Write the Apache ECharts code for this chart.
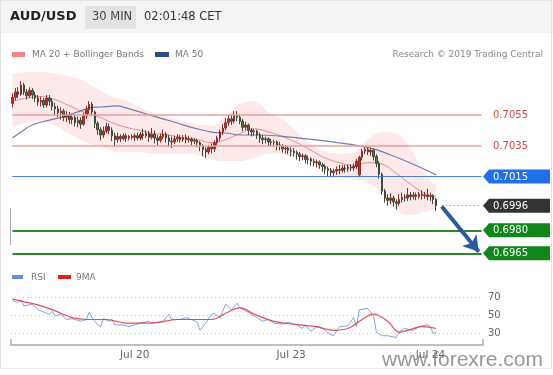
<!DOCTYPE html>
<html><head><meta charset="utf-8">
<script src="https://cdn.jsdelivr.net/npm/echarts@6/dist/echarts.min.js"></script>
<style>html,body{margin:0;padding:0;background:#fff}#c{width:553px;height:375px}</style>
</head><body><div id="c"></div>
<script>
// ---------- data ----------
const xLabels = ['Jul 20', 'Jul 23', 'Jul 24'];
const xLabelIdx = [43, 98, 147];
const slotCount = 166;

// [open, close, low, high]
const candles = [
[0.70625,0.70665,0.70600,0.70690],[0.70665,0.70700,0.70645,0.70725],[0.70700,0.70685,0.70660,0.70730],[0.70685,0.70745,0.70675,0.70770],
[0.70745,0.70700,0.70680,0.70760],[0.70700,0.70675,0.70650,0.70720],[0.70675,0.70710,0.70660,0.70730],[0.70710,0.70680,0.70655,0.70725],
[0.70680,0.70660,0.70635,0.70700],[0.70660,0.70635,0.70610,0.70680],[0.70635,0.70645,0.70605,0.70670],[0.70645,0.70615,0.70595,0.70660],
[0.70615,0.70660,0.70600,0.70680],[0.70660,0.70640,0.70610,0.70680],[0.70640,0.70605,0.70580,0.70660],[0.70605,0.70590,0.70550,0.70630],
[0.70590,0.70565,0.70535,0.70610],[0.70565,0.70575,0.70520,0.70600],[0.70575,0.70535,0.70510,0.70590],[0.70535,0.70550,0.70505,0.70575],
[0.70550,0.70520,0.70495,0.70570],[0.70520,0.70535,0.70490,0.70560],[0.70535,0.70500,0.70475,0.70550],[0.70500,0.70515,0.70470,0.70540],
[0.70515,0.70490,0.70460,0.70535],[0.70490,0.70545,0.70480,0.70565],[0.70545,0.70585,0.70525,0.70610],[0.70585,0.70620,0.70560,0.70640],
[0.70620,0.70570,0.70545,0.70635],[0.70570,0.70495,0.70465,0.70580],[0.70495,0.70455,0.70420,0.70510],[0.70455,0.70420,0.70385,0.70470],
[0.70420,0.70445,0.70400,0.70475],[0.70445,0.70475,0.70430,0.70500],[0.70475,0.70450,0.70425,0.70495],[0.70450,0.70415,0.70380,0.70470],
[0.70415,0.70390,0.70345,0.70435],[0.70390,0.70410,0.70370,0.70435],[0.70410,0.70395,0.70375,0.70425],[0.70395,0.70415,0.70385,0.70430],
[0.70415,0.70400,0.70375,0.70430],[0.70400,0.70410,0.70385,0.70420],[0.70410,0.70405,0.70390,0.70425],[0.70405,0.70415,0.70380,0.70430],
[0.70415,0.70400,0.70385,0.70435],[0.70400,0.70425,0.70385,0.70440],[0.70425,0.70415,0.70390,0.70460],[0.70415,0.70430,0.70400,0.70450],
[0.70430,0.70405,0.70375,0.70445],[0.70405,0.70425,0.70390,0.70465],[0.70425,0.70400,0.70365,0.70450],[0.70400,0.70385,0.70355,0.70420],
[0.70385,0.70410,0.70370,0.70430],[0.70410,0.70425,0.70395,0.70455],[0.70425,0.70400,0.70370,0.70440],[0.70400,0.70380,0.70345,0.70420],
[0.70380,0.70375,0.70335,0.70410],[0.70375,0.70395,0.70360,0.70415],[0.70395,0.70405,0.70375,0.70425],[0.70405,0.70390,0.70370,0.70420],
[0.70390,0.70405,0.70375,0.70420],[0.70405,0.70390,0.70365,0.70425],[0.70390,0.70395,0.70370,0.70415],[0.70395,0.70380,0.70355,0.70405],
[0.70380,0.70385,0.70360,0.70400],[0.70385,0.70370,0.70340,0.70395],[0.70370,0.70350,0.70315,0.70380],[0.70350,0.70325,0.70280,0.70360],
[0.70325,0.70310,0.70270,0.70340],[0.70310,0.70340,0.70295,0.70355],[0.70340,0.70330,0.70300,0.70365],[0.70330,0.70370,0.70310,0.70385],
[0.70370,0.70400,0.70355,0.70415],[0.70400,0.70440,0.70380,0.70455],[0.70440,0.70465,0.70420,0.70490],[0.70465,0.70500,0.70450,0.70530],
[0.70500,0.70525,0.70480,0.70550],[0.70525,0.70510,0.70485,0.70555],[0.70510,0.70550,0.70495,0.70575],[0.70550,0.70535,0.70510,0.70575],
[0.70535,0.70510,0.70490,0.70555],[0.70510,0.70470,0.70445,0.70525],[0.70470,0.70485,0.70450,0.70505],[0.70485,0.70450,0.70420,0.70495],
[0.70450,0.70440,0.70410,0.70465],[0.70440,0.70445,0.70415,0.70460],[0.70445,0.70420,0.70395,0.70455],[0.70420,0.70400,0.70370,0.70435],
[0.70400,0.70390,0.70360,0.70420],[0.70390,0.70395,0.70365,0.70410],[0.70395,0.70375,0.70345,0.70405],[0.70375,0.70370,0.70345,0.70395],
[0.70370,0.70375,0.70345,0.70390],[0.70375,0.70355,0.70320,0.70385],[0.70355,0.70350,0.70320,0.70375],[0.70350,0.70330,0.70305,0.70360],
[0.70330,0.70335,0.70300,0.70355],[0.70335,0.70320,0.70295,0.70350],[0.70320,0.70315,0.70280,0.70340],[0.70315,0.70305,0.70280,0.70335],
[0.70305,0.70295,0.70260,0.70320],[0.70295,0.70280,0.70250,0.70310],[0.70280,0.70285,0.70255,0.70300],[0.70285,0.70260,0.70235,0.70295],
[0.70260,0.70265,0.70230,0.70285],[0.70265,0.70250,0.70220,0.70275],[0.70250,0.70240,0.70215,0.70265],[0.70240,0.70245,0.70210,0.70260],
[0.70245,0.70225,0.70200,0.70255],[0.70225,0.70215,0.70180,0.70240],[0.70215,0.70200,0.70165,0.70230],[0.70200,0.70190,0.70150,0.70215],
[0.70190,0.70175,0.70145,0.70205],[0.70175,0.70185,0.70145,0.70200],[0.70185,0.70195,0.70160,0.70215],[0.70195,0.70190,0.70165,0.70225],
[0.70190,0.70205,0.70175,0.70225],[0.70205,0.70200,0.70175,0.70225],[0.70200,0.70210,0.70180,0.70230],[0.70210,0.70205,0.70185,0.70230],
[0.70205,0.70215,0.70185,0.70235],[0.70215,0.70250,0.70200,0.70265],[0.70160,0.70275,0.70145,0.70285],[0.70275,0.70315,0.70255,0.70330],
[0.70315,0.70325,0.70295,0.70340],[0.70325,0.70310,0.70290,0.70335],[0.70310,0.70320,0.70285,0.70335],[0.70320,0.70280,0.70255,0.70330],
[0.70280,0.70235,0.70210,0.70295],[0.70235,0.70165,0.70135,0.70250],[0.70165,0.70055,0.70030,0.70175],[0.70055,0.70010,0.69980,0.70070],
[0.70010,0.69995,0.69960,0.70035],[0.69995,0.70010,0.69970,0.70040],[0.70010,0.69985,0.69955,0.70025],[0.69985,0.69975,0.69935,0.70000],
[0.69975,0.70000,0.69960,0.70035],[0.70000,0.70015,0.69980,0.70045],[0.70015,0.70010,0.69985,0.70035],[0.70010,0.70030,0.69990,0.70075],
[0.70030,0.70020,0.69995,0.70050],[0.70020,0.70030,0.70000,0.70050],[0.70030,0.70020,0.69995,0.70045],[0.70020,0.70035,0.70005,0.70050],
[0.70035,0.70025,0.70000,0.70060],[0.70025,0.70030,0.70005,0.70050],[0.70030,0.70020,0.69995,0.70070],[0.70020,0.70025,0.69990,0.70045],
[0.70025,0.70000,0.69970,0.70035],[0.70000,0.69960,0.69925,0.70010]
];

const ma50Idx = [0,3,7,13,18,23,27,31,37,40,46,52,58,64,70,75,80,87,94,101,113,126,133,140,147,149];
const ma50Val = [0.70400,0.70439,0.70485,0.70517,0.70537,0.70570,0.70596,0.70602,0.70609,0.70596,0.70563,0.70530,0.70498,0.70465,0.70439,0.70433,0.70420,0.70420,0.70413,0.70400,0.70374,0.70335,0.70290,0.70238,0.70179,0.70159];

const bbIdx = [0,5,10,15,20,25,30,35,40,45,50,55,60,65,70,75,80,85,90,95,100,105,110,115,120,125,130,135,140,145,149];
const bbUpper = [0.7082,0.7083,0.7083,0.7082,0.7080,0.7077,0.7072,0.7067,0.7064,0.7060,0.7056,0.7054,0.7051,0.7049,0.7048,0.7054,0.7062,0.7064,0.7057,0.7052,0.7044,0.7036,0.7031,0.7030,0.7031,0.7039,0.7044,0.7043,0.7033,0.7017,0.7009];
const bbMid = [0.7064,0.7066,0.7067,0.7065,0.7061,0.7057,0.7054,0.7050,0.7047,0.7045,0.7043,0.7042,0.7040,0.7039,0.7037,0.7039,0.7043,0.7046,0.7044,0.7041,0.7037,0.7032,0.7027,0.7024,0.7022,0.7024,0.7023,0.7017,0.7010,0.7004,0.7002];
const bbLower = [0.7047,0.7050,0.7051,0.7048,0.7043,0.7038,0.7035,0.7032,0.7031,0.7031,0.7030,0.7030,0.7030,0.7029,0.7026,0.7025,0.7025,0.7027,0.7030,0.7029,0.7027,0.7024,0.7018,0.7015,0.7013,0.7011,0.7004,0.6993,0.6990,0.6992,0.6994];

const rsiIdx = [0,2,3,4,7,9,12,13,14,15,17,19,21,22,24,26,27,28,30,31,32,34,35,36,39,41,43,45,48,49,53,55,56,59,61,63,65,66,68,70,71,73,75,77,79,80,83,84,86,88,90,92,95,97,100,102,103,105,107,109,110,112,113,115,118,120,121,122,124,125,127,128,130,132,135,136,138,141,143,146,147,148,149];
const rsiVal = [66,64,67,60,62,56,52,51,54,49,51,45,46,45,43,45,53,47,39,37,46,43,45,39,39,37,39,41,43,41,43,51,45,45,47,45,42,33,41,51,52,47,62,56,63,58,53,51,47,43,45,41,40,42,39,35,39,32,37,35,33,28,27,37,38,47,37,56,57,57,49,31,27,27,25,31,35,33,37,39,37,29,31];
const rsiMaIdx = [0,5,8,14,21,26,33,40,49,58,62,70,75,80,85,92,101,107,113,118,123,127,132,136,139,144,149];
const rsiMaVal = [68,64,62,56,47,45,45,41,41,45,45,45,52,58,51,43,39,37,33,35,45,51,43,31,33,37,35];
const rsiLevels = [30, 50, 70];

const levels = [0.7055, 0.7035, 0.7015, 0.6996, 0.6980, 0.6965];
const levelText = ['0.7055', '0.7035', '0.7015', '0.6996', '0.6980', '0.6965'];
const lastPrice = 0.6996;
const arrowFrom = [151, 0.69955];
const arrowTo = [164, 0.69660];

// ---------- chart ----------
const FONT = 'DejaVu Sans';
const categories = [];
for (let i = 0; i < slotCount; i++) categories.push(String(i));
const pairs = (idx, val) => idx.map((x, k) => [x, val[k]]);

const levelStyle = [
  {kind: 'text', color: '#d9453f', line: {color: '#f09c9c', width: 1.6, type: 'solid'}},
  {kind: 'text', color: '#d9453f', line: {color: '#f09c9c', width: 1.6, type: 'solid'}},
  {kind: 'box', color: '#1f6fe5', line: {color: '#4a7fe0', width: 1, type: 'solid'}},
  {kind: 'box', color: '#333333', line: null},
  {kind: 'box', color: '#11861a', line: {color: '#2a8a2a', width: 2, type: 'solid'}},
  {kind: 'box', color: '#11861a', line: {color: '#2a8a2a', width: 2, type: 'solid'}}
];

const markData = [];
levels.forEach((lv, k) => {
  if (levelStyle[k].line) markData.push([
    {xAxis: 0, yAxis: lv, lineStyle: levelStyle[k].line},
    {xAxis: slotCount - 1, yAxis: lv}
  ]);
});
markData.push([{coord: [151, lastPrice], lineStyle: {color: '#777', width: 1, type: [1, 3]}}, {coord: [slotCount - 1, lastPrice]}]);
markData.push([
  {coord: arrowFrom, symbol: 'none', lineStyle: {color: '#2b5a9e', width: 4, type: 'solid'}},
  {coord: arrowTo, symbol: 'arrow', symbolSize: [14, 15]}
]);

const chart = echarts.init(document.getElementById('c'), null, {renderer: 'canvas'});
const option = {
  animation: false,
  grid: [
    {left: 11, top: 68.9, width: 472, height: 199.8},
    {left: 11, top: 288, width: 472, height: 56.25}
  ],
  xAxis: [
    {type: 'category', gridIndex: 0, data: categories, show: false, boundaryGap: true},
    {type: 'category', gridIndex: 1, data: categories, boundaryGap: true,
      axisLine: {lineStyle: {color: '#aaaaaa', width: 1.5}},
      axisTick: {show: false},
      axisLabel: {
        interval: (i) => xLabelIdx.includes(i),
        formatter: (v, i) => { const k = xLabelIdx.indexOf(Number(v)); return k >= 0 ? xLabels[k] : ''; },
        color: '#666', fontSize: 10.5, fontFamily: FONT, margin: 6
      }
    }
  ],
  yAxis: [
    {type: 'value', gridIndex: 0, min: 0.6955, max: 0.7085, show: false},
    {type: 'value', gridIndex: 1, min: 17.5, max: 80, interval: 2.5, position: 'right',
      axisLine: {show: false}, axisTick: {show: false}, splitLine: {show: false},
      axisLabel: {formatter: (v) => rsiLevels.includes(v) ? String(v) : '', color: '#666', fontSize: 10, fontFamily: FONT, margin: 5}
    }
  ],
  series: [
    {name: 'bbLower', type: 'line', xAxisIndex: 0, yAxisIndex: 0, stack: 'bb', smooth: 0.4, symbol: 'none', silent: true,
      data: pairs(bbIdx, bbLower), lineStyle: {opacity: 0}, z: 1},
    {name: 'bbBand', type: 'line', xAxisIndex: 0, yAxisIndex: 0, stack: 'bb', smooth: 0.4, symbol: 'none', silent: true,
      data: bbIdx.map((x, k) => [x, +(bbUpper[k] - bbLower[k]).toFixed(5)]), lineStyle: {opacity: 0},
      areaStyle: {color: 'rgba(248,165,165,0.34)'}, z: 1},
    {name: 'MA20', type: 'line', xAxisIndex: 0, yAxisIndex: 0, smooth: 0.4, symbol: 'none', silent: true,
      data: pairs(bbIdx, bbMid), lineStyle: {color: 'rgba(225,110,110,0.75)', width: 1}, z: 2},
    {name: 'MA50', type: 'line', xAxisIndex: 0, yAxisIndex: 0, smooth: 0.4, symbol: 'none', silent: true,
      data: pairs(ma50Idx, ma50Val), lineStyle: {color: 'rgba(70,100,160,0.8)', width: 1.2}, z: 2},
    {name: 'levels', type: 'line', xAxisIndex: 0, yAxisIndex: 0, symbol: 'none', silent: true, data: [], z: 4,
      markLine: {silent: true, symbol: ['none', 'none'], label: {show: false}, data: markData, animation: false}},
    {name: 'AUD/USD', type: 'candlestick', xAxisIndex: 0, yAxisIndex: 0, barWidth: 2, data: candles, z: 3,
      itemStyle: {color: '#c8322b', color0: '#4f7a45', borderColor: '#8a2e2a', borderColor0: '#3d4a3b', borderWidth: 1}
    },
    {name: 'RSI', type: 'line', xAxisIndex: 1, yAxisIndex: 1, symbol: 'none', silent: true,
      data: pairs(rsiIdx, rsiVal), lineStyle: {color: 'rgba(110,145,215,0.85)', width: 1},
      markLine: {silent: true, symbol: ['none', 'none'], label: {show: false},
        lineStyle: {color: '#c8c8c8', width: 1, type: [1, 3]},
        data: rsiLevels.map(v => ({yAxis: v}))}
    },
    {name: '9MA', type: 'line', xAxisIndex: 1, yAxisIndex: 1, symbol: 'none', silent: true, smooth: 0.4,
      data: pairs(rsiMaIdx, rsiMaVal), lineStyle: {color: 'rgba(220,50,60,0.85)', width: 1.2}}
  ]
};
chart.setOption(option);

// ---------- decorations & level labels ----------
const txt = (text, x, y, font, fill, align) => ({type: 'text', z: 50,
  style: {text: text, x: x, y: y, font: font, fill: fill, align: align || 'left', verticalAlign: 'middle'}});
const g = [];
g.push({type: 'rect', z: 0, shape: {x: 0, y: 0, width: 553, height: 33}, style: {fill: '#f4f4f4'}});
g.push({type: 'rect', z: 0, shape: {x: 0.5, y: 0.5, width: 551, height: 368}, style: {fill: 'none', stroke: '#e3e3e3'}});
g.push(txt('AUD/USD', 10, 17, 'bold 13px ' + FONT, '#222'));
g.push({type: 'rect', z: 1, shape: {x: 85, y: 6, width: 51, height: 23}, style: {fill: '#e3e3e3'}});
g.push(txt('30 MIN', 92, 17, '11.5px ' + FONT, '#444'));
g.push(txt('02:01:48 CET', 144, 17, '11.5px ' + FONT, '#333'));
g.push({type: 'rect', z: 50, shape: {x: 12, y: 52, width: 13, height: 5}, style: {fill: '#f08686'}});
g.push(txt('MA 20 + Bollinger Bands', 32, 54.5, '9px ' + FONT, '#777'));
g.push({type: 'rect', z: 50, shape: {x: 155, y: 52, width: 14, height: 5}, style: {fill: '#2c4f86'}});
g.push(txt('MA 50', 175, 54.5, '9px ' + FONT, '#777'));
g.push(txt('Research \u00a9 2019 Trading Central', 543, 54.5, '9px ' + FONT, '#888', 'right'));
g.push({type: 'rect', z: 50, shape: {x: 12, y: 275, width: 11, height: 4}, style: {fill: '#6a8bd8'}});
g.push(txt('RSI', 31, 277.5, '9px ' + FONT, '#777'));
g.push({type: 'rect', z: 50, shape: {x: 58, y: 275, width: 13, height: 4}, style: {fill: '#dd2222'}});
g.push(txt('9MA', 76, 277.5, '9px ' + FONT, '#777'));
g.push({type: 'line', z: 50, shape: {x1: 10.5, y1: 208, x2: 10.5, y2: 245}, style: {stroke: '#aaa', lineWidth: 1}});
g.push({type: 'line', z: 50, shape: {x1: 11, y1: 339, x2: 11, y2: 345}, style: {stroke: '#aaa', lineWidth: 1.5}});
g.push({type: 'line', z: 50, shape: {x1: 483, y1: 339, x2: 483, y2: 345}, style: {stroke: '#aaa', lineWidth: 1.5}});

levels.forEach((lv, k) => {
  const yc = chart.convertToPixel({yAxisIndex: 0}, lv);
  const st = levelStyle[k];
  if (st.kind === 'box') {
    g.push({type: 'polygon', z: 40, shape: {points: [[483, yc], [489, yc - 7], [550, yc - 7], [550, yc + 7], [489, yc + 7]]},
      style: {fill: st.color}});
    g.push(txt(levelText[k], 493, yc + 0.5, '10px ' + FONT, '#fff'));
  } else {
    g.push(txt(levelText[k], 493, yc + 0.5, '10px ' + FONT, st.color));
  }
});
g.push(txt('www.forexre.com', 543, 360, '21px Liberation Sans', 'rgba(125,125,125,0.8)', 'right'));
chart.setOption({graphic: g});
</script>
</body></html>
